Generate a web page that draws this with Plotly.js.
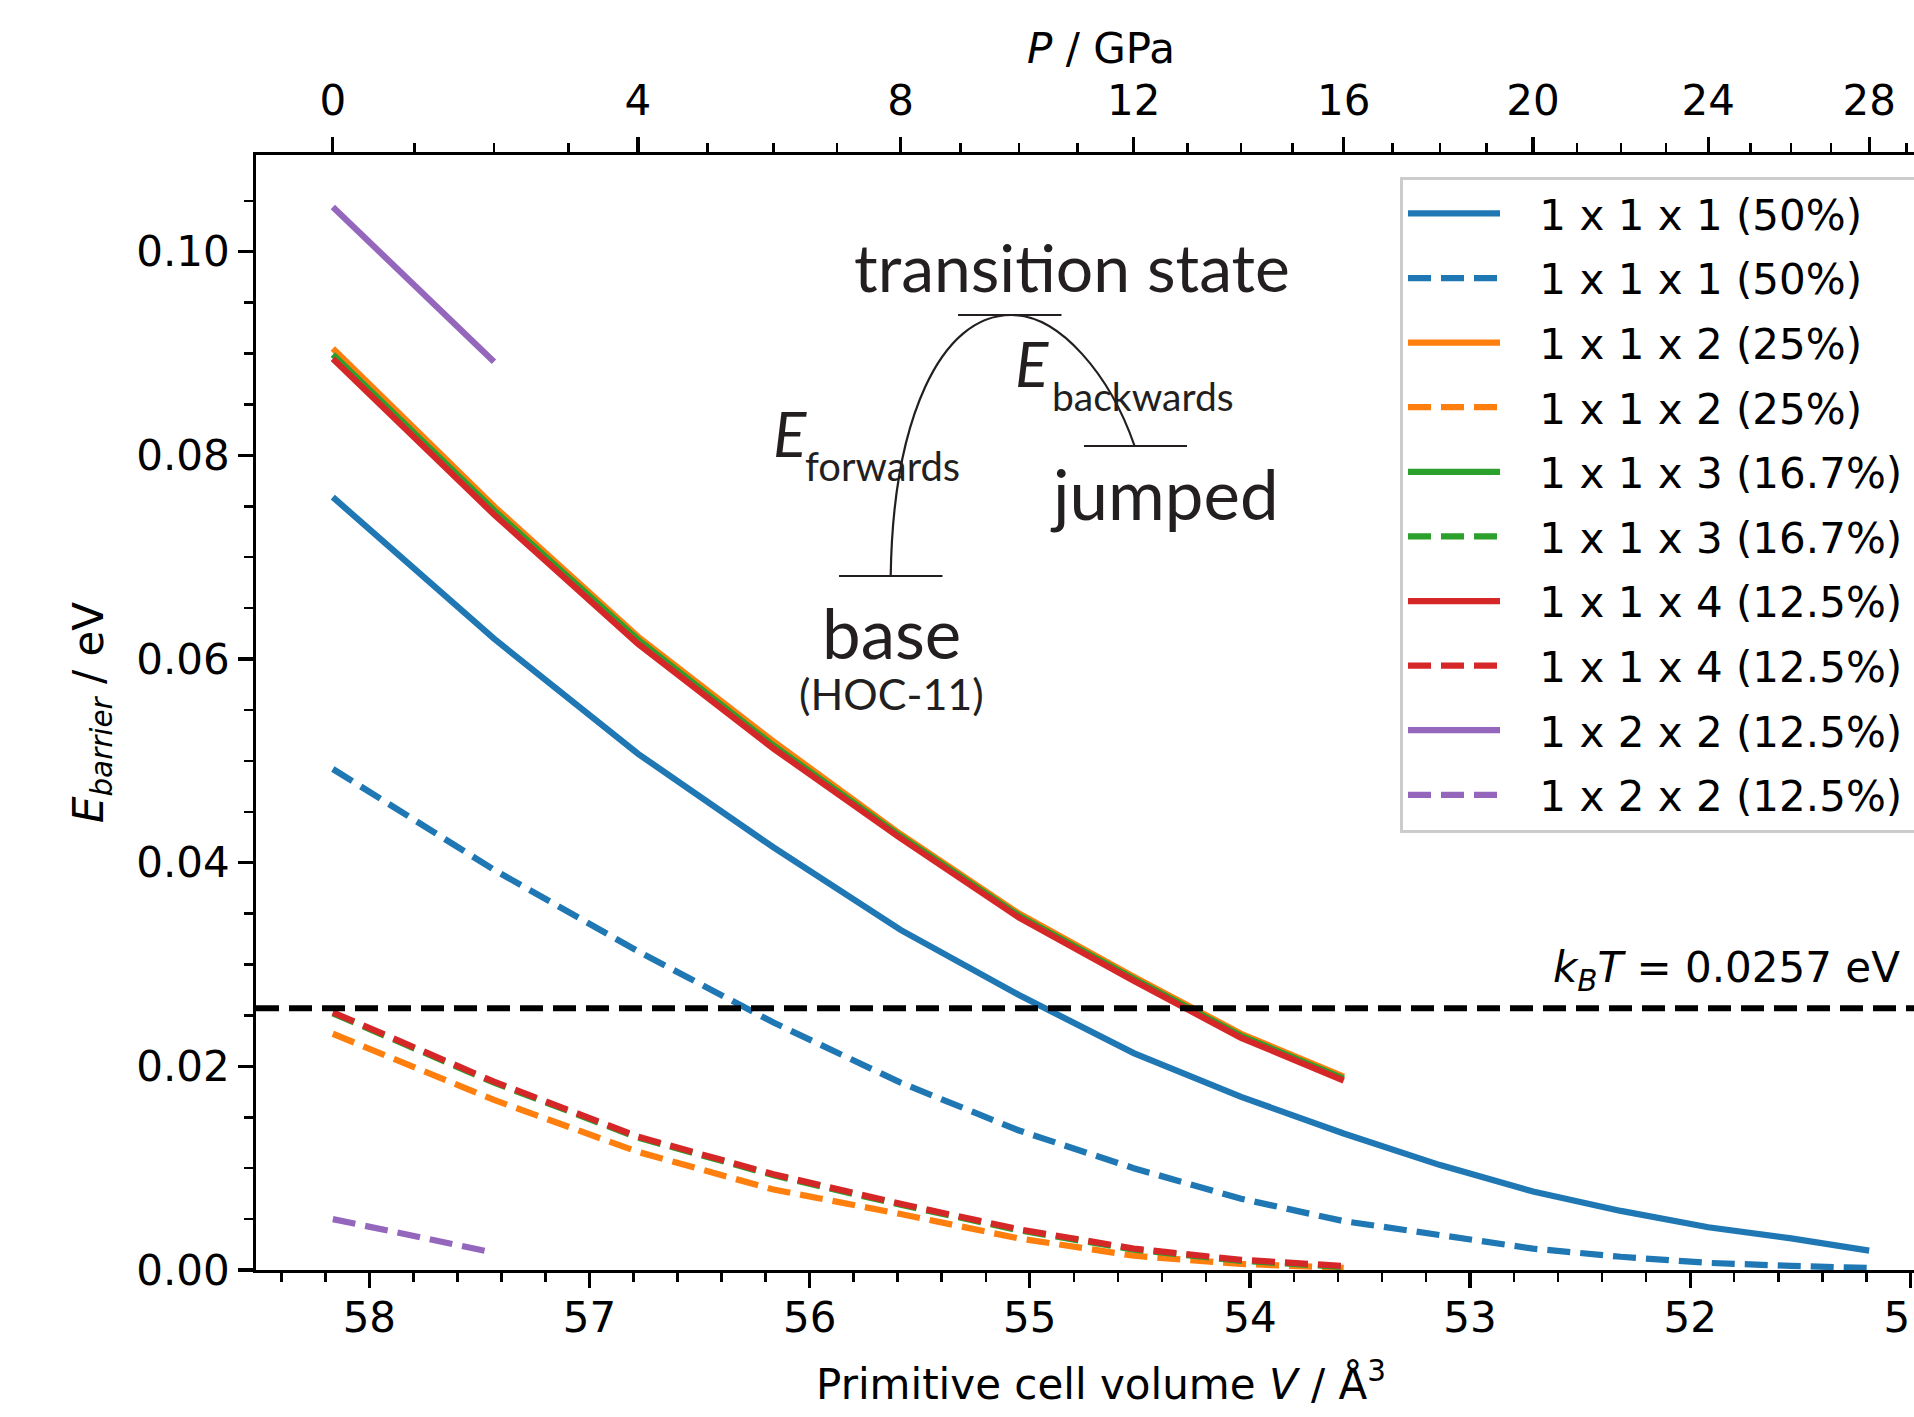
<!DOCTYPE html>
<html>
<head>
<meta charset="utf-8">
<script src="https://cdn.plot.ly/plotly-3.0.1.min.js"></script>
<style>
html,body{margin:0;padding:0;overflow:hidden;background:#ffffff;}
#chart{width:2000px;height:1417px;}
</style>
</head>
<body>
<div id="chart"></div>
<script>
// ---------------- data ----------------
// pressure (GPa) -> primitive cell volume (Å^3), used for the top axis
const pressureGPa = [0,1,2,3,4,5,6,7,8,9,10,11,12,13,14,15,16,17,18,19,20,21,22,23,24,25,26,27,28,29];
const volumeAtPressure = [58.166,57.795,57.434,57.096,56.780,56.464,56.164,55.876,55.587,55.315,55.049,54.783,54.528,54.284,54.040,53.807,53.574,53.352,53.136,52.925,52.714,52.515,52.315,52.110,51.918,51.727,51.541,51.360,51.187,51.017];
const pressureLabels = [0,4,8,12,16,20,24,28];

// volumes of the computed points (P = 0, 2, 4, ... 28 GPa)
const volume = [58.166,57.434,56.780,56.164,55.587,55.049,54.528,54.040,53.574,53.136,52.714,52.315,51.918,51.541,51.187];

const e111Solid  = [0.0759,0.0620,0.0507,0.0415,0.0334,0.0270,0.0213,0.0170,0.0134,0.0103,0.0077,0.0058,0.0042,0.0031,0.0019];
const e111Dashed = [0.0492,0.0393,0.0313,0.0243,0.0184,0.0137,0.0100,0.0070,0.0048,0.0034,0.0021,0.0013,0.0007,0.0004,0.0002];
const e112Solid  = [0.0905,0.0750,0.0622,0.0519,0.0428,0.0350,0.0288,0.0232,0.0190];
const e112Dashed = [0.0232,0.0167,0.0116,0.0079,0.0055,0.0031,0.0014,0.0006,0.0002];
const e113Solid  = [0.0899,0.0746,0.0619,0.0515,0.0426,0.0348,0.0286,0.0230,0.0188];
const e113Dashed = [0.0252,0.0184,0.0130,0.0093,0.0064,0.0039,0.0020,0.0009,0.0003];
const e114Solid  = [0.0895,0.0742,0.0615,0.0512,0.0424,0.0346,0.0284,0.0228,0.0186];
const e114Dashed = [0.0253,0.0185,0.0131,0.0094,0.0065,0.0040,0.0021,0.0010,0.0004];
const e122Solid  = [0.1044,0.0892];
const e122Dashed = [0.0050,0.0017];

const kBT = 0.0257;

const seriesNames = ['1 x 1 x 1 (50%)','1 x 1 x 2 (25%)','1 x 1 x 3 (16.7%)','1 x 1 x 4 (12.5%)','1 x 2 x 2 (12.5%)'];
const seriesColors = ['#1f77b4','#ff7f0e','#2ca02c','#d62728','#9467bd'];

// ---------------- layout geometry ----------------
const W = 2000, H = 1417;
const M = {l:256, r:54, t:155, b:147};
const plotW = W - M.l - M.r, plotH = H - M.t - M.b;
const px = x => (x - M.l) / plotW;
const py = y => (H - M.b - y) / plotH;

const FONT = 'DejaVu Sans';
const DFONT = 'Lato';
const DCOL = '#231f20';
const LW = 6.25;
const DASH = '23px,10px';

function lineTrace(name, y, color, dashed, idx) {
  return {
    type:'scatter', mode:'lines',
    name:'\u2002\u00a0' + name + '\u2002\u2002',
    x: volume.slice(0, y.length), y:y,
    line:{color:color, width:LW, dash: dashed ? DASH : 'solid'},
    legendgroup:'g'+idx, hoverinfo:'skip'
  };
}

const solids = [e111Solid,e112Solid,e113Solid,e114Solid,e122Solid];
const dashes = [e111Dashed,e112Dashed,e113Dashed,e114Dashed,e122Dashed];
const traces = [];
for (let i = 0; i < 5; i++) {
  traces.push(lineTrace(seriesNames[i], solids[i], seriesColors[i], false, 2*i));
  traces.push(lineTrace(seriesNames[i], dashes[i], seriesColors[i], true, 2*i+1));
}
// empty trace so the pressure axis is created
traces.push({type:'scatter', mode:'lines', x:[], y:[], xaxis:'x2', yaxis:'y', showlegend:false, hoverinfo:'skip'});

const xRange = [58.515, 50.838];

const axisCommon = {
  showgrid:false, zeroline:false, showline:true, linecolor:'#000', linewidth:3.3,
  ticks:'outside', ticklen:14.6, tickwidth:3.3, tickcolor:'#000',
  tickfont:{family:FONT, size:42, color:'#000'}
};

const layout = {
  width:W, height:H, margin:M,
  paper_bgcolor:'#fff', plot_bgcolor:'#fff',
  font:{family:FONT, size:42, color:'#000'},
  showlegend:true,
  legend:{
    x:px(1400), xanchor:'left', y:py(176.6), yanchor:'top',
    bgcolor:'rgba(255,255,255,0.8)', bordercolor:'#cccccc', borderwidth:3,
    font:{family:FONT, size:42, color:'#000'},
    traceorder:'grouped', tracegroupgap:7, itemwidth:92
  },
  xaxis: Object.assign({}, axisCommon, {
    range:xRange, autorange:false, tickmode:'linear', tick0:0, dtick:1,
    ticklabelstandoff:-6,
    minor:{tickmode:'linear', tick0:0, dtick:0.2, ticks:'outside', ticklen:8.3, tickwidth:2.5, tickcolor:'#000'},
    title:{text:'Primitive cell volume <i>V</i> / Å<sup>3</sup>', font:{family:FONT, size:42, color:'#000'}, standoff:29}
  }),
  xaxis2: Object.assign({}, axisCommon, {
    overlaying:'x', side:'top', anchor:'y', range:xRange, autorange:false,
    tickmode:'array',
    tickvals: pressureLabels.map(p => volumeAtPressure[pressureGPa.indexOf(p)]),
    ticktext: pressureLabels.map(String),
    ticklabelstandoff:5,
    minor:{tickmode:'array', tickvals:volumeAtPressure, ticks:'outside', ticklen:8.3, tickwidth:2.5, tickcolor:'#000'},
    title:{text:'<i>P</i> / GPa', font:{family:FONT, size:42, color:'#000'}, standoff:0}
  }),
  yaxis: Object.assign({}, axisCommon, {
    range:[0, 0.1095], autorange:false, tickmode:'linear', tick0:0, dtick:0.02, tickformat:'.2f',
    mirror:true,
    minor:{tickmode:'linear', tick0:0, dtick:0.005, ticks:'outside', ticklen:8.3, tickwidth:2.5, tickcolor:'#000'},
    title:{text:'<i>E</i><sub><i>barrier</i></sub> / eV', font:{family:FONT, size:42, color:'#000'}, standoff:20}
  }),
  shapes:[
    {type:'line', xref:'paper', x0:0, x1:1, yref:'y', y0:kBT, y1:kBT,
     line:{color:'#000', width:6, dash:DASH}, layer:'above'},
    // energy diagram inset
    {type:'line', xref:'paper', yref:'paper', x0:px(958), x1:px(1061.5), y0:py(315), y1:py(315), line:{color:DCOL, width:2.2}},
    {type:'line', xref:'paper', yref:'paper', x0:px(1084), x1:px(1187), y0:py(446), y1:py(446), line:{color:DCOL, width:2.2}},
    {type:'line', xref:'paper', yref:'paper', x0:px(839), x1:px(942.5), y0:py(576), y1:py(576), line:{color:DCOL, width:2.2}},
    {type:'path', xref:'paper', yref:'paper',
     path:'M'+px(890.7)+','+py(576)+' C'+px(893)+','+py(420)+' '+px(940)+','+py(315)+' '+px(1011.4)+','+py(315)+
          ' C'+px(1060)+','+py(315)+' '+px(1110)+','+py(375)+' '+px(1134.6)+','+py(446),
     line:{color:DCOL, width:2.2}}
  ],
  annotations:[
    {xref:'paper', yref:'paper', x:px(1902), y:py(970), xanchor:'right', yanchor:'middle', showarrow:false,
     text:'<i>k</i><sub><i>B</i></sub><i>T</i> = 0.0257 eV', font:{family:FONT, size:42, color:'#000'}},
    {xref:'paper', yref:'paper', x:px(1072), y:py(266), xanchor:'center', yanchor:'middle', showarrow:false,
     text:'transition state', font:{family:DFONT, size:66, color:DCOL}},
    {xref:'paper', yref:'paper', x:px(771), y:py(433), xanchor:'left', yanchor:'middle', showarrow:false,
     text:'<i>E</i>', font:{family:DFONT, size:62, color:DCOL}},
    {xref:'paper', yref:'paper', x:px(803), y:py(466), xanchor:'left', yanchor:'middle', showarrow:false,
     text:'forwards', font:{family:DFONT, size:40, color:DCOL}},
    {xref:'paper', yref:'paper', x:px(1013), y:py(363), xanchor:'left', yanchor:'middle', showarrow:false,
     text:'<i>E</i>', font:{family:DFONT, size:62, color:DCOL}},
    {xref:'paper', yref:'paper', x:px(1050), y:py(396), xanchor:'left', yanchor:'middle', showarrow:false,
     text:'backwards', font:{family:DFONT, size:39, color:DCOL}},
    {xref:'paper', yref:'paper', x:px(1164), y:py(493), xanchor:'center', yanchor:'middle', showarrow:false,
     text:'jumped', font:{family:DFONT, size:69, color:DCOL}},
    {xref:'paper', yref:'paper', x:px(891), y:py(632), xanchor:'center', yanchor:'middle', showarrow:false,
     text:'base', font:{family:DFONT, size:69, color:DCOL}},
    {xref:'paper', yref:'paper', x:px(891), y:py(693), xanchor:'center', yanchor:'middle', showarrow:false,
     text:'(HOC-11)', font:{family:DFONT, size:43, color:DCOL}}
  ]
};

Plotly.newPlot('chart', traces, layout, {displayModeBar:false, staticPlot:true});
</script>
</body>
</html>
